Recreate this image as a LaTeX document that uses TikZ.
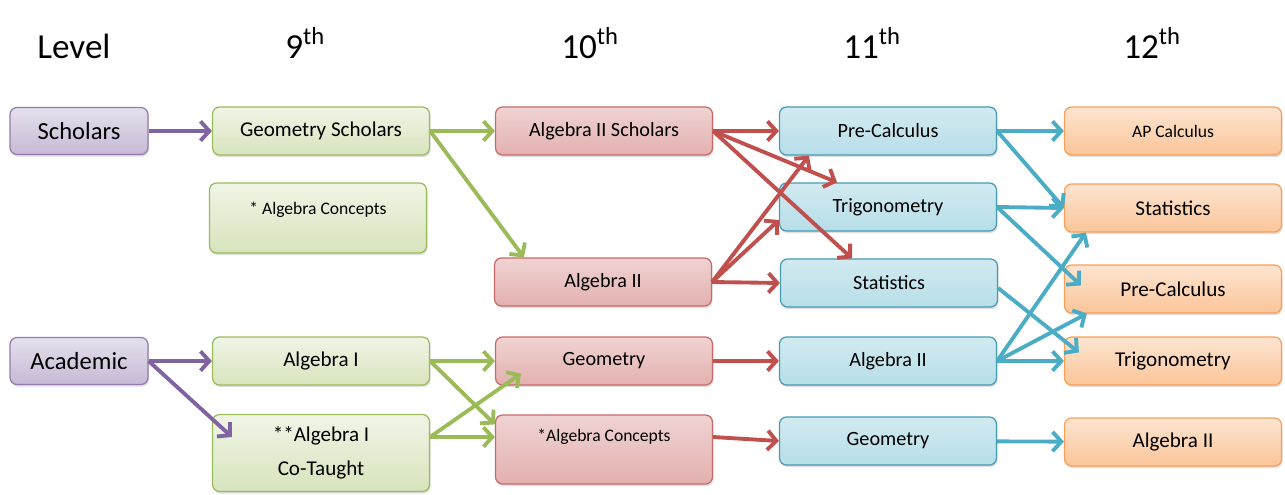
\documentclass[tikz,border=0pt]{standalone}
\usepackage{fontspec}
\setmainfont{Carlito}
\usepackage{tikz}
\usetikzlibrary{positioning,arrows.meta,shadows}
\definecolor{purpleline}{HTML}{8064A2}
\definecolor{greenline}{HTML}{9BBB59}
\definecolor{redline}{HTML}{C0504D}
\definecolor{blueline}{HTML}{4BACC6}
\definecolor{orangeline}{HTML}{F79646}
\tikzstyle{line} = [draw,line width=2.2pt,-{Straight Barb[length=5pt,width=11pt]}]
\tikzstyle{box} = [rectangle, rounded corners=4pt, minimum width=4.34cm, minimum height=0.96cm, line width=0.7pt, font=\fontsize{11.5}{14}\selectfont, drop shadow={opacity=0.25,shadow xshift=0.6pt,shadow yshift=-1.2pt}]

\begin{document}
\begin{tikzpicture}[x=0.02cm,y=-0.02cm]
  \tikzstyle{level box} = [box, minimum width=2.76cm, minimum height=0.94cm, font=\fontsize{14}{16}\selectfont, top color=purpleline!20, bottom color=purpleline!45, draw=purpleline!85]
  \tikzstyle{ninth box} = [box, top color=greenline!15, bottom color=greenline!40, draw=greenline]
  \tikzstyle{tenth box} = [box, top color=redline!25, bottom color=redline!45, draw=redline!85]
  \tikzstyle{eleventh box} = [box, top color=blueline!25, bottom color=blueline!40, draw=blueline!90!black]
  \tikzstyle{twelfth box} = [box, top color=orangeline!25, bottom color=orangeline!55, draw=orangeline!90]
  \tikzstyle{head} = [anchor=base west, inner sep=0pt, font=\fontsize{20}{24}\selectfont]
  \useasboundingbox (0,0) rectangle (1285,494);

  % headings
  \node[head] (level) at (37,58) {Level};
  \node[head] (grade9) at (285,58) {9\textsuperscript{th}};
  \node[head] (grade10) at (561,58) {10\textsuperscript{th}};
  \node[head] (grade11) at (843,58) {11\textsuperscript{th}};
  \node[head] (grade12) at (1123,58) {12\textsuperscript{th}};

  % level
  \node[level box] (scholars) at (79,131) {Scholars};
  \node[level box] (academic) at (79,361) {Academic};

  % 9th
  \node[ninth box, font=\fontsize{12}{14}\selectfont] (geoS) at (321,131) {Geometry Scholars};
  \node[ninth box, font=\fontsize{10}{12}\selectfont, inner ysep=0pt, text height=0.62cm, text depth=0.78cm] (algCon9) at (318,218) {* Algebra Concepts};
  \node[ninth box, font=\fontsize{12}{14}\selectfont] (algI) at (321,361) {Algebra I};
  \node[ninth box, minimum height=1.54cm, align=center, font=\fontsize{12}{19}\selectfont] (algICo) at (321,453) {**Algebra I\\Co-Taught};

  % 10th
  \node[tenth box] (algIIS) at (604,131) {Algebra II Scholars};
  \node[tenth box] (algII10) at (603,282) {Algebra II};
  \node[tenth box] (geo10) at (604,361) {Geometry};
  \node[tenth box, font=\fontsize{10}{12}\selectfont, inner ysep=0pt, text height=0.52cm, text depth=0.86cm] (algCon10) at (604,449.5) {*Algebra Concepts};

  % 11th
  \node[eleventh box] (preCalc11) at (888,131) {Pre-Calculus};
  \node[eleventh box] (trig11) at (888,207) {Trigonometry};
  \node[eleventh box] (stat11) at (889,283) {Statistics};
  \node[eleventh box] (algII11) at (888,361) {Algebra II};
  \node[eleventh box] (geo11) at (888,441) {Geometry};

  % 12th
  \node[twelfth box, font=\fontsize{10}{12}\selectfont] (apCalc) at (1173,131) {AP Calculus};
  \node[twelfth box, font=\fontsize{12}{14}\selectfont] (stat12) at (1173,208) {Statistics};
  \node[twelfth box, font=\fontsize{12}{14}\selectfont] (preCalc12) at (1173,289) {Pre-Calculus};
  \node[twelfth box, font=\fontsize{12}{14}\selectfont] (trig12) at (1173,361) {Trigonometry};
  \node[twelfth box, font=\fontsize{12}{14}\selectfont] (algII12) at (1173,442) {Algebra II};

  % level -> 9th
  \path[line, purpleline] (scholars) -- (geoS);
  \path[line, purpleline] (academic) -- (algI);
  \path[line, purpleline] (academic.east) -- ([xshift=0.4cm,yshift=0.32cm]algICo.west);

  % 9th -> 10th
  \path[line, greenline] (geoS) -- (algIIS);
  \path[line, greenline] (geoS.east) -- ([xshift=0.6cm]algII10.north west);
  \path[line, greenline] (algI) -- (geo10);
  \path[line, greenline] (algI.east) -- ([yshift=-0.2cm]algCon10.north west);
  \path[line, greenline] ([yshift=0.32cm]algICo.east) -- ([xshift=0.52cm,yshift=0.24cm]geo10.south west);
  \path[line, greenline] ([yshift=0.32cm]algICo.east) -- ([yshift=0.25cm]algCon10.west);

  % 10th -> 11th
  \path[line, redline] (algIIS) -- (preCalc11);
  \path[line, redline] (algIIS.east) -- ([xshift=-1.02cm]trig11.north);
  \path[line, redline] (algIIS.east) -- ([xshift=-0.74cm]stat11.north);
  \path[line, redline] (algII10.east) -- ([xshift=0.6cm]preCalc11.south west);
  \path[line, redline] (algII10.east) -- ([yshift=-0.26cm]trig11.west);
  \path[line, redline] (algII10.east) -- (stat11.west);
  \path[line, redline] (geo10) -- (algII11);
  \path[line, redline] ([yshift=0.25cm]algCon10.east) -- (geo11.west);

  % 11th -> 12th
  \path[line, blueline] (preCalc11) -- (apCalc);
  \path[line, blueline] (preCalc11.east) -- (stat12.west);
  \path[line, blueline] (trig11.east) -- (stat12.west);
  \path[line, blueline] (trig11.east) -- ([xshift=0.34cm,yshift=-0.42cm]preCalc12.north west);
  \path[line, blueline] ([yshift=-0.1cm]stat11.east) -- ([xshift=0.3cm,yshift=-0.32cm]trig12.north west);
  \path[line, blueline] (algII11.east) -- ([xshift=0.44cm]stat12.south west);
  \path[line, blueline] (algII11.east) -- ([xshift=0.46cm]preCalc12.south west);
  \path[line, blueline] (algII11) -- (trig12);
  \path[line, blueline] (geo11) -- (algII12);
\end{tikzpicture}
\end{document}
